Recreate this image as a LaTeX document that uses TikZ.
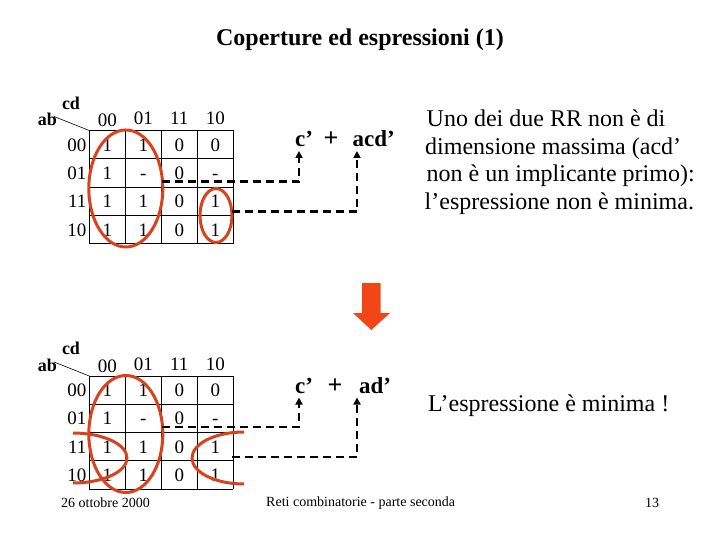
\documentclass[tikz,border=0pt]{standalone}
\usepackage{fontspec}
\setmainfont{Liberation Serif}
\usetikzlibrary{arrows.meta}
\definecolor{kred}{RGB}{218,66,30}
\definecolor{arrred}{RGB}{242,70,22}
\begin{document}
\begin{tikzpicture}[x=1pt,y=-1pt,
  num/.style={font=\fontsize{19}{19}\selectfont, inner sep=0pt, text height=13pt, text depth=0pt},
  lbl/.style={font=\fontsize{18}{18}\selectfont\bfseries, inner sep=0pt},
  gridline/.style={draw=black, line width=0.9pt},
  cover/.style={draw=kred, line width=3pt},
  link/.style={draw=black, line width=2.8pt, dash pattern=on 8pt off 5pt,
    -{Triangle[length=7pt,width=7pt]}},
  expr/.style={font=\fontsize{23}{23}\selectfont\bfseries, inner sep=0pt, anchor=base west},
  body/.style={font=\fontsize{24}{24}\selectfont, inner sep=0pt, anchor=base west},
  foot/.style={font=\fontsize{14}{14}\selectfont, inner sep=0pt}]
\useasboundingbox (0,0) rectangle (720,540);

\node[font=\fontsize{24}{24}\selectfont\bfseries, inner sep=0pt] (title) at (360,40) {Coperture ed espressioni (1)};

% ---------- two Karnaugh maps ----------
\foreach \g/\sh in {a/0, b/245.5}{
  \begin{scope}[yshift=-\sh pt]
    \foreach \i in {0,...,4}
      \draw[gridline] (89.3+36*\i,130.5) -- (89.3+36*\i,243.7);
    \foreach \j in {0,...,4}
      \draw[gridline] (89.3,130.5+28.3*\j) -- (233.3,130.5+28.3*\j);
    \draw[line width=0.6pt] (54,116.5) -- (89.3,130.5);
    \node[lbl] (\g ab) at (47.5,119.5) {ab};
    \node[lbl] (\g cd) at (71,103) {cd};
    \node[num] (\g h0) at (107.3,120.5) {00};
    \node[num] (\g h1) at (143.3,118.5) {01};
    \node[num] (\g h2) at (179.3,118.5) {11};
    \node[num] (\g h3) at (215.3,118.5) {10};
    \foreach \r/\lab in {0/00,1/01,2/11,3/10}
      \node[num, anchor=east] (\g r\r) at (86.5,144.65+28.3*\r) {\lab};
    \foreach \r/\va/\vb/\vc/\vd in {0/1/1/0/0, 1/1/-/0/-, 2/1/1/0/1, 3/1/1/0/1}{
      \node[num] (\g c\r0) at (107.3,144.65+28.3*\r) {\va};
      \node[num] (\g c\r1) at (143.3,144.65+28.3*\r) {\vb};
      \node[num] (\g c\r2) at (179.3,144.65+28.3*\r) {\vc};
      \node[num] (\g c\r3) at (215.3,144.65+28.3*\r) {\vd};
    }
    \draw[cover] (125.8,188.5) ellipse [x radius=37pt, y radius=58.5pt];
    \coordinate (\g s1) at (161.7,181.5);
    \coordinate (\g s2) at (231.7,211.5);
  \end{scope}
}

% extra covers
\draw[cover] (216,215.5) ellipse [x radius=16pt, y radius=27pt];
\draw[cover] (73,433) arc [start angle=90, end angle=-90, x radius=54pt, y radius=25pt];
\draw[cover] (244,432) arc [start angle=90, end angle=270, x radius=52pt, y radius=26pt];

% ---------- expressions ----------
\node[expr] (ac) at (295,146.5) {c’};
\node[expr, font=\fontsize{26}{26}\selectfont\bfseries] (aplus) at (323.5,146.5) {+};
\node[expr] (aacd) at (352.5,146.5) {acd’};
\node[expr] (bc) at (295,393.5) {c’};
\node[expr, font=\fontsize{26}{26}\selectfont\bfseries] (bplus) at (327.5,393.5) {+};
\node[expr] (bad) at (359,393.5) {ad’};

\draw[link] (as1) -| ([shift={(4pt,-4.5pt)}]ac.base west);
\draw[link] (as2) -| ([shift={(4.5pt,-4.5pt)}]aacd.base west);
\draw[link] (bs1) -| ([shift={(4pt,-4pt)}]bc.base west);
\draw[link] (bs2) -| ([shift={(-2pt,-4pt)}]bad.base west);

% ---------- big arrow ----------
\fill[arrred] (362,283) -- (380.5,283) -- (380.5,313) -- (390,313) -- (371.3,330)
  -- (353,313) -- (362,313) -- cycle;

% ---------- comments ----------
\node[body] (t1) at (426.5,126.5) {Uno dei due RR non è di};
\node[body] (t2) at (425,154.2) {dimensione massima (acd’};
\node[body] (t3) at (426.5,181.8) {non è un implicante primo):};
\node[body] (t4) at (424.5,209.5) {l’espressione non è minima.};
\node[body] (t5) at (428,411.5) {L’espressione è minima !};

% ---------- footer ----------
\node[foot, anchor=west] (date) at (61,503) {26 ottobre 2000};
\node[foot, anchor=west] (course) at (266,503) {Reti combinatorie - parte seconda};
\node[foot] (page) at (652,503) {13};
\end{tikzpicture}
\end{document}
